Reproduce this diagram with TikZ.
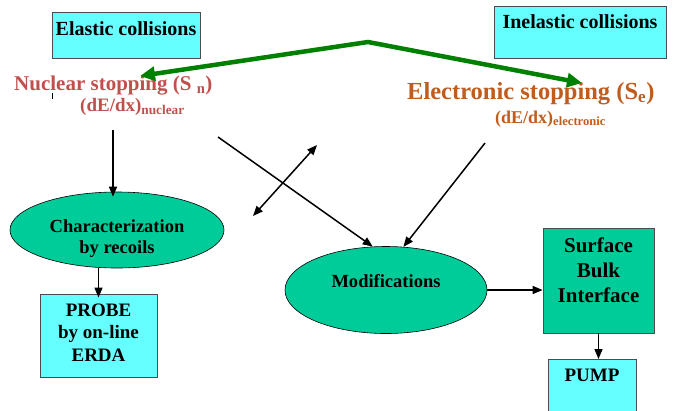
\documentclass[tikz,border=0pt]{standalone}
\usepackage{fontspec}
\setmainfont{Liberation Serif}
\usetikzlibrary{calc,shapes.geometric,arrows.meta}
\definecolor{boxcyan}{RGB}{102,255,255}
\definecolor{ovalgreen}{RGB}{0,204,153}
\definecolor{arrowgreen}{RGB}{0,128,0}
\definecolor{nuclred}{RGB}{192,80,77}
\definecolor{elecbrown}{RGB}{192,92,30}
\newcommand{\bfsize}[2]{\fontsize{#1}{#2}\selectfont\bfseries}

\begin{document}
\begin{tikzpicture}[x=1pt, y=-1pt,
  >={Triangle[length=10pt,width=8pt]},
  collbox/.style={draw=black!70, line width=0.8pt, fill=boxcyan, inner sep=0pt, align=center},
  oval/.style={ellipse, draw, line width=0.6pt, fill=ovalgreen, inner sep=0pt, align=center},
  stoptext/.style={anchor=base west, inner sep=0pt},
  link/.style={->, line width=1.5pt},
  greenlink/.style={{Triangle[length=15pt,width=14pt]}-{Triangle[length=15pt,width=14pt]}, line width=4.5pt, arrowgreen}]
\useasboundingbox (0,0) rectangle (676,410);
\clip (0,0) rectangle (676,410);

\node[collbox, minimum width=148pt, text height=23pt, text depth=23pt, font=\bfsize{20}{24}] (elastic) at (126,35) {Elastic collisions};
\node[collbox, anchor=north, minimum width=172pt, text height=22pt, text depth=30pt, font=\bfsize{20}{24}] (inelastic) at (580,6) {Inelastic collisions};

\node[stoptext, text=nuclred, font=\bfsize{21}{25}] (nuclear) at (14,90) {Nuclear stopping (S \textsubscript{n})};
\node[stoptext, text=nuclred, font=\bfsize{19}{23}] (nucleardx) at (80,111) {(dE/dx)\textsubscript{nuclear}};
\node[stoptext, text=elecbrown, font=\bfsize{24.5}{29}] (electronic) at (407,99) {Electronic stopping (S\textsubscript{e})};
\node[stoptext, text=elecbrown, font=\bfsize{18}{22}] (electronicdx) at (495,123) {(dE/dx)\textsubscript{electronic}};
\draw[line width=0.8pt] (52,93) -- (52,99);

\node[oval, minimum width=214pt, minimum height=76pt, text height=49pt, text depth=2pt, font=\bfsize{18.5}{21.5}] (charact) at (117,230) {Characterization\\by recoils};
\node[collbox, minimum width=117pt, minimum height=83pt, text height=53pt, text depth=2pt, font=\bfsize{19}{22.5}] (probe) at (98.5,335.5) {PROBE\\by on-line\\ERDA};
\node[oval, minimum width=202pt, minimum height=87pt, text height=14pt, text depth=20pt, font=\bfsize{18.5}{22}] (modif) at (386,290) {Modifications};
\node[collbox, fill=ovalgreen, minimum width=111pt, minimum height=105pt, text height=47pt, text depth=4pt, font=\bfsize{21}{25}] (surface) at (598.5,280.5) {Surface\\Bulk\\Interface};
\node[collbox, anchor=north, minimum width=88pt, text height=22pt, text depth=50pt, font=\bfsize{19}{23}] (pump) at (592,359) {PUMP};

\coordinate (nucfoot) at (113,130);
\coordinate (crossstart) at (218,137);
\coordinate (electail) at (485,143);
\coordinate (swapa) at (253,216);
\coordinate (swapb) at (317,145);
\draw[link, shorten >=-5pt] (nucfoot) -- (nucfoot |- charact.north);
\draw[link, shorten >=-4pt] (charact.south -| probe.north) -- (probe.north);
\draw[link] (crossstart) -- (modif.107);
\draw[link] (electail) -- (modif.68);
\draw[link, <->] (swapa) -- (swapb);
\draw[link] (modif.east) -- (modif.east -| surface.west);
\draw[link] (surface.south) -- (surface.south |- pump.north);

\coordinate (apex) at (368,42);
\coordinate (nuctip) at (140,76);
\coordinate (electip) at (582,83);
\draw[greenlink] (nuctip) -- (apex) -- (electip);
\end{tikzpicture}
\end{document}
